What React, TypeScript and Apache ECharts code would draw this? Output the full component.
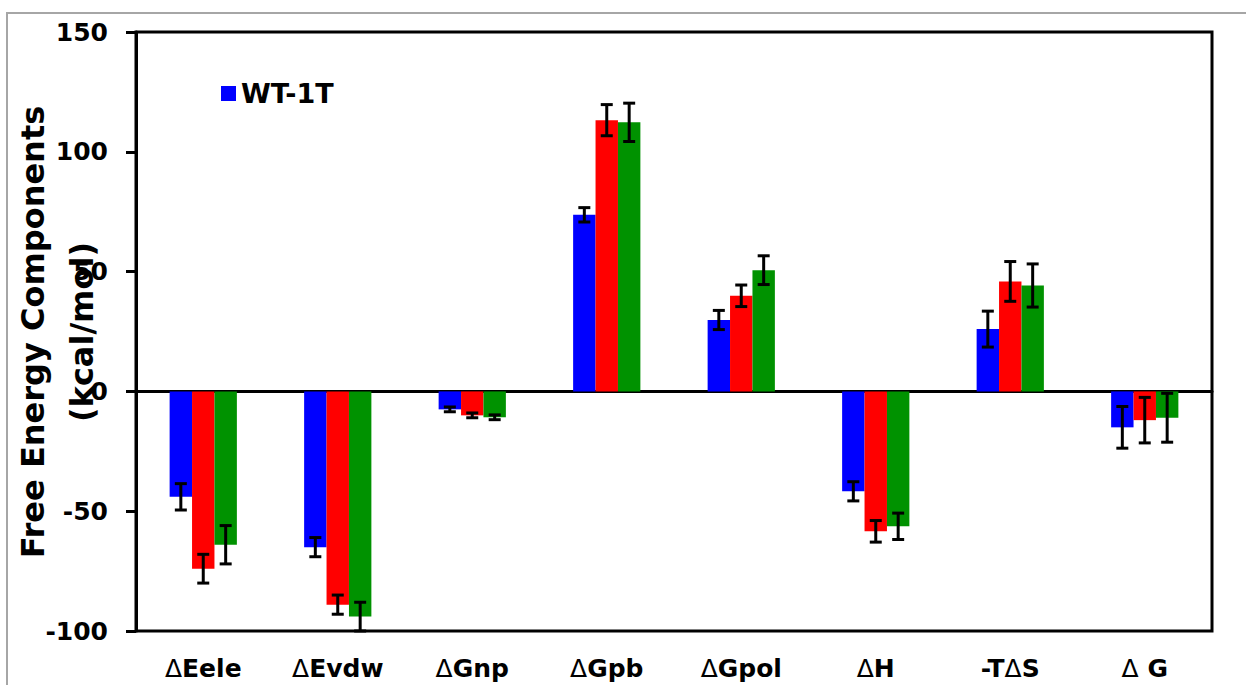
import React, { useEffect, useRef } from "react";
import * as echarts from "echarts";

const categories = ["ΔEele", "ΔEvdw", "ΔGnp", "ΔGpb", "ΔGpol", "ΔH", "-TΔS", "Δ G"];
const seriesNames = ["WT-1T", "Variant 2", "Variant 3"];
const seriesColors = ["#0000FF", "#FF0000", "#009200"];
const wtValues = [-44, -65, -7.5, 73.7, 29.8, -41.7, 26, -15];
const wtErrors = [5.5, 4, 1, 3, 4, 4, 7.5, 8.7];
const v2Values = [-74, -89, -10, 113.2, 39.9, -58.4, 45.9, -12];
const v2Errors = [6, 4, 1, 6.5, 4.5, 4.5, 8.3, 9.5];
const v3Values = [-64, -94, -10.8, 112.3, 50.6, -56.3, 44.2, -11];
const v3Errors = [8, 6, 1, 8, 6, 5.5, 9, 10.2];
const yTicks = { min: -100, max: 150, interval: 50 };

const allValues = [wtValues, v2Values, v3Values];
const allErrors = [wtErrors, v2Errors, v3Errors];

function richLabel(v: string): string {
  const parts = v.split("Δ");
  let out = "";
  parts.forEach((p, i) => {
    if (i > 0) out += "{d|Δ}";
    if (p.length) out += "{b|" + p + "}";
  });
  return out;
}

export default function App() {
  const ref = useRef<HTMLDivElement>(null);
  useEffect(() => {
    if (!ref.current) return;
    const chart = echarts.init(ref.current, null, { renderer: "svg" });
    const font = "DejaVu Sans";
    const barSeries = seriesNames.map((name, i) => ({
      name,
      type: "bar",
      data: allValues[i],
      itemStyle: { color: seriesColors[i] },
      barGap: "0%",
      barCategoryGap: "50%",
      z: 2,
    }));
    const errSeries = seriesNames.map((name, i) => ({
      name: name + " err",
      type: "custom",
      z: 5,
      data: allValues[i].map((v, k) => [k, v, allErrors[i][k]]),
      renderItem: (params: any, api: any) => {
        const idx = api.value(0);
        const val = api.value(1);
        const err = api.value(2);
        const catW = api.size([1, 0])[0];
        const bw = (catW * 0.5) / 3;
        const off = (i - 1) * bw;
        const top = api.coord([idx, val + err]);
        const bot = api.coord([idx, val - err]);
        const x = top[0] + off;
        const cap = 6;
        const style = { stroke: "#000", lineWidth: 3 };
        return {
          type: "group",
          children: [
            { type: "line", shape: { x1: x, y1: top[1], x2: x, y2: bot[1] }, style },
            { type: "line", shape: { x1: x - cap, y1: top[1], x2: x + cap, y2: top[1] }, style },
            { type: "line", shape: { x1: x - cap, y1: bot[1], x2: x + cap, y2: bot[1] }, style },
          ],
        };
      },
    }));
    chart.setOption({
      animation: false,
      backgroundColor: "#ffffff",
      grid: {
        left: 136,
        right: 34,
        top: 32,
        bottom: 54,
        show: true,
        borderColor: "#000",
        borderWidth: 3,
        backgroundColor: "transparent",
      },
      legend: {
        data: [{ name: "WT-1T", icon: "rect" }],
        left: 216,
        top: 75,
        itemWidth: 15,
        itemHeight: 15,
        itemGap: 8,
        textStyle: { fontFamily: font, fontWeight: "bold", fontSize: 27, color: "#000" },
      },
      xAxis: {
        type: "category",
        data: categories,
        axisLine: { onZero: true, lineStyle: { color: "#000", width: 3 } },
        axisTick: { show: false },
        axisLabel: {
          interval: 0,
          margin: 25,
          formatter: (v: string) => richLabel(v),
          rich: {
            d: { fontFamily: font, fontWeight: "normal", fontSize: 25, color: "#000" },
            b: { fontFamily: font, fontWeight: "bold", fontSize: 25, color: "#000" },
          },
        },
        splitLine: { show: false },
      },
      yAxis: {
        type: "value",
        min: yTicks.min,
        max: yTicks.max,
        interval: yTicks.interval,
        axisLine: { show: true, lineStyle: { color: "#000", width: 3 } },
        axisTick: { show: true, inside: false, length: 10, lineStyle: { color: "#000", width: 3 } },
        axisLabel: { margin: 28, fontFamily: font, fontWeight: "bold", fontSize: 25, color: "#000" },
        splitLine: { show: false },
      },
      graphic: [
        {
          type: "rect",
          shape: { x: 7, y: 13, width: 1300, height: 700 },
          style: { fill: "none", stroke: "#a6a6a6", lineWidth: 2 },
          silent: true,
          z: -1,
        },
        {
          type: "text",
          x: 57,
          y: 332,
          rotation: Math.PI / 2,
          style: {
            text: "Free Energy Components\n(kcal/mol)",
            fontFamily: font,
            fontWeight: "bold",
            fontSize: 32,
            lineHeight: 49,
            fill: "#000",
            textAlign: "center",
            textVerticalAlign: "middle",
          },
        },
      ],
      series: [...barSeries, ...errSeries],
    });
    return () => chart.dispose();
  }, []);
  return (
    <div
      ref={ref}
      style={{ position: "absolute", left: 0, top: 0, width: 1246, height: 685, background: "#fff" }}
    />
  );
}
